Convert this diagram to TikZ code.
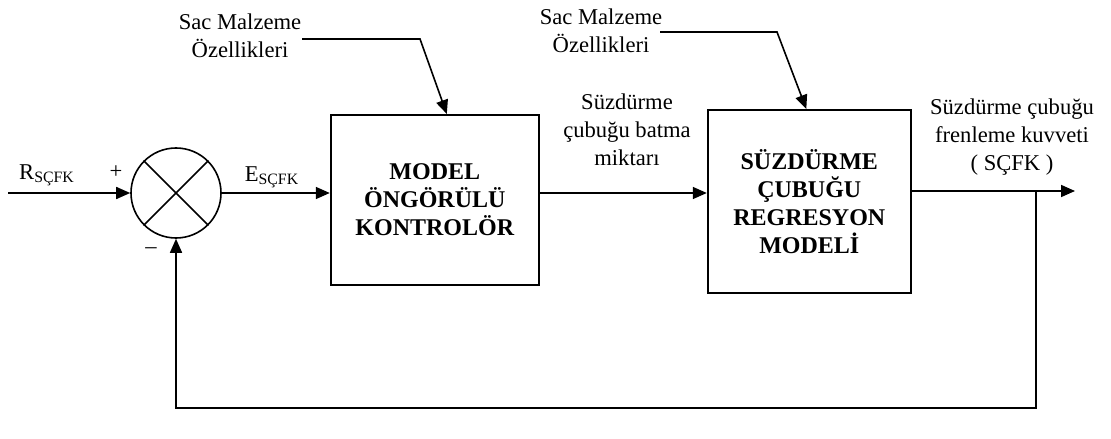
\documentclass[tikz,border=0pt]{standalone}
\usepackage{fontspec}
\setmainfont{Liberation Serif}
\usetikzlibrary{arrows.meta, positioning}
\tikzset{blok/.style={rectangle,draw,line width=1pt,align=center,inner sep=2pt,font=\bfseries\fontsize{12}{14}\selectfont},toplam/.style={circle,draw,line width=0.8pt,minimum size=45pt,inner sep=0pt},etiket/.style={align=center,inner sep=0pt,font=\fontsize{11.3}{14}\selectfont},line/.style={-{Triangle[length=7pt,width=6pt]},line width=0.8pt}}

\begin{document}
\begin{tikzpicture}[x=0.5pt,y=-0.5pt]
\useasboundingbox (0,0) rectangle (1111,438);
\node[toplam] (sum) at (176,193) {};
\draw[line width=0.8pt] (sum.north west) -- (sum.south east) (sum.north east) -- (sum.south west);
\node[blok, minimum width=104pt, minimum height=85pt, right=54pt of sum, yshift=-3.5pt] (mpc) {MODEL\\ÖNGÖRÜLÜ\\KONTROLÖR};
\node[blok, minimum width=101.5pt, minimum height=91.5pt, right=83.5pt of mpc, yshift=-0.75pt] (reg) {SÜZDÜRME\\ÇUBUĞU\\REGRESYON\\MODELİ};
\coordinate (in) at (8,193);
\coordinate (out) at (1075,191);
\coordinate (br) at (1036,191);
\coordinate (fb) at (1036,408);
% labels
\node[etiket] (rlab) at (47,175) {R\textsubscript{SÇFK}};
\node[etiket] (plus) at (116,172) {+};
\node[etiket] (minus) at (151,251) {–};
\node[etiket] (elab) at (272,177) {E\textsubscript{SÇFK}};
\node[etiket] (batma) at (627,130) {Süzdürme\\çubuğu batma\\miktarı};
\node[etiket] (kuvvet) at (1012,137) {Süzdürme çubuğu\\frenleme kuvveti\\( SÇFK )};
\node[etiket] (sac1) at (240,36) {Sac Malzeme\\Özellikleri};
\node[etiket] (sac2) at (601,31) {Sac Malzeme\\Özellikleri};
\coordinate (s1) at (302,39);
\coordinate (k1) at (420,39);
\coordinate (s2) at (660,32);
\coordinate (k2) at (777,32);
% signals
\draw[line] (in) -- (sum.west);
\draw[line] (sum.east) -- (sum.east -| mpc.west);
\draw[line] (sum -| mpc.east) -- (sum -| reg.west);
\draw[line] (reg.east |- out) -- (out);
\draw[line] (br) -- (fb) -| (sum.south);
\draw[line] (s1) -- (k1) -- ([xshift=6pt]mpc.north);
\draw[line] (s2) -- (k2) -- ([xshift=-1.5pt]reg.north);
\end{tikzpicture}
\end{document}
